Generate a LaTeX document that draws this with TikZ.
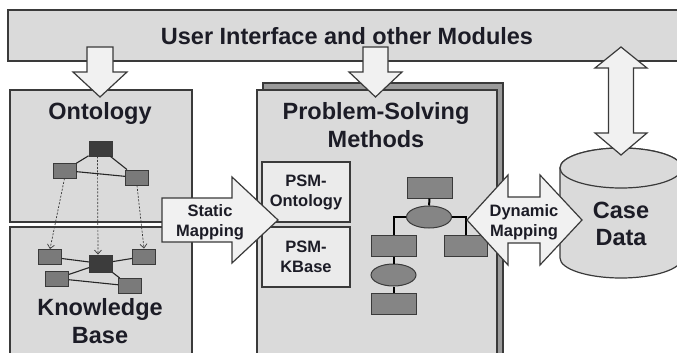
\documentclass[tikz,border=0pt]{standalone}
\usepackage{fontspec}
\setmainfont{Liberation Sans}
\usetikzlibrary{shapes.geometric,arrows.meta}

\definecolor{edge}{HTML}{3A3A3A}
\definecolor{panelgray}{HTML}{DADADA}
\definecolor{arrowfill}{HTML}{F1F1F1}
\definecolor{subbox}{HTML}{EBEBEB}
\definecolor{shadowgray}{HTML}{9A9A9A}
\definecolor{midgray}{HTML}{7A7A7A}
\definecolor{darkbox}{HTML}{3C3C3C}
\definecolor{treegray}{HTML}{858585}
\definecolor{ink}{HTML}{1C1C26}

\tikzset{
  panel/.style={draw=edge, fill=panelgray, line width=1.2pt},
  blockarrow/.style={draw=edge, fill=arrowfill, line width=1.2pt, line join=miter},
  bigtext/.style={font=\bfseries\fontsize{23.5}{27.5}\selectfont, text=ink, align=center, inner sep=0pt},
  smalltext/.style={font=\bfseries\fontsize{16.5}{20}\selectfont, text=ink, align=center, inner sep=0pt},
  onto/.style={draw=edge, fill=midgray, line width=0.9pt, minimum width=23pt, minimum height=15pt, inner sep=0pt},
  ontodark/.style={onto, fill=darkbox},
  treebox/.style={draw=edge, fill=treegray, line width=1pt, minimum width=45pt, minimum height=21pt, inner sep=0pt},
  treeoval/.style={ellipse, draw=edge, fill=treegray, line width=1pt, minimum width=45pt, minimum height=22pt, inner sep=0pt},
  link/.style={draw=black!85, line width=1.1pt},
  treelink/.style={draw=black, line width=2pt},
  mapsto/.style={draw=edge, line width=0.7pt, dash pattern=on 2pt off 1.5pt, -{Straight Barb[length=4pt,width=7pt]}}
}

\begin{document}
\begin{tikzpicture}[x=1pt,y=-1pt]
\useasboundingbox (0,0) rectangle (677,353);
\clip (0,0) rectangle (677,353);
\fill[white] (0,0) rectangle (677,353);

% top bar
\draw[panel] (8,10) rectangle (700,61);

% left column: ontology and knowledge base
\draw[panel] (10,90) rectangle (192,222);
\draw[panel] (10,227) rectangle (192,370);

% problem-solving methods, with its shadow panel
\draw[draw=edge, fill=shadowgray, line width=1.2pt] (263,83) rectangle (503,370);
\draw[panel] (257,90) rectangle (497,370);
\draw[draw=edge, fill=subbox, line width=1.2pt] (262,162) rectangle (350,222);
\draw[draw=edge, fill=subbox, line width=1.2pt] (262,227) rectangle (350,287);

% case data cylinder
\draw[panel] (560,168) -- (560,258) arc[start angle=180, end angle=0, x radius=61, y radius=20]
  -- (682,168) arc[start angle=0, end angle=-180, x radius=61, y radius=20] -- cycle;
\draw[panel] (621,168) ellipse [x radius=61, y radius=20];

% ontology graph
\node[ontodark] (o1) at (100.5,148.5) {};
\node[onto] (o2) at (64.5,170.5) {};
\node[onto] (o3) at (137,177.5) {};
\draw[link] (o1) -- (o2);
\draw[link] (o1) -- (o3);
\draw[link] (o2) -- (o3);

% knowledge base graph
\node[onto] (k1) at (50,257) {};
\node[ontodark, minimum height=17pt] (k2) at (101,263.5) {};
\node[onto] (k3) at (144,256.5) {};
\node[onto] (k4) at (57,278.5) {};
\node[onto] (k5) at (130,286) {};
\draw[link] (k1) -- (k2);
\draw[link] (k2) -- (k3);
\draw[link] (k2) -- (k4);
\draw[link] (k4) -- (k5);
\draw[link] (k2) -- (k5);

% ontology to knowledge base correspondences
\draw[mapsto] (o2.south) -- (k1.north);
\draw[mapsto] ([xshift=-3pt]o1.south) -- ([xshift=-3pt]k2.north);
\draw[mapsto] (o3.south) -- (k3.north);

% method decomposition tree
\node[treebox] (t1) at (429.5,187.5) {};
\node[treeoval] (e1) at (429,217) {};
\node[treebox] (l1) at (393.5,246) {};
\node[treebox, minimum width=43pt] (r1) at (465.5,246) {};
\node[treeoval] (e2) at (393.5,275) {};
\node[treebox] (b1) at (393.5,304) {};
\draw[treelink] (t1) -- (e1);
\draw[treelink] (e1.west) -| (l1.north);
\draw[treelink] (e1.east) -| (r1.north);
\draw[treelink] (l1) -- (e2);
\draw[treelink] (e2) -- (b1);

% block arrows
\draw[blockarrow] (87,47) -- (113,47) -- (113,72) -- (127,72) -- (100,97) -- (73,72) -- (87,72) -- cycle;
\draw[blockarrow] (363,47) -- (388,47) -- (388,72) -- (402,72) -- (375.5,97) -- (349,72) -- (363,72) -- cycle;
\draw[blockarrow] (621,47) -- (647,68) -- (633.5,68) -- (633.5,133) -- (647,133) -- (621,155)
  -- (595,133) -- (608.5,133) -- (608.5,68) -- (595,68) -- cycle;
\draw[blockarrow] (162,198) -- (232,198) -- (232,177) -- (278,220) -- (232,263) -- (232,242) -- (162,242) -- cycle;
\draw[blockarrow] (467,220) -- (508,175) -- (508,197) -- (540,197) -- (540,175) -- (582,220)
  -- (540,265) -- (540,243) -- (508,243) -- (508,265) -- cycle;

% labels
\node[bigtext] (ui) at (347,36) {User Interface and other Modules};
\node[bigtext] (ontology) at (100,113) {Ontology};
\node[bigtext] (kb) at (100,321) {Knowledge\\Base};
\node[bigtext] (psm) at (376,125) {Problem-Solving\\Methods};
\node[bigtext] (case) at (621,224) {Case\\Data};
\node[smalltext] (static) at (210,222) {Static\\Mapping};
\node[smalltext] (dynamic) at (524,222) {Dynamic\\Mapping};
\node[smalltext] (psmonto) at (306,192) {PSM-\\Ontology};
\node[smalltext] (psmkb) at (306,257) {PSM-\\KBase};
\end{tikzpicture}
\end{document}
